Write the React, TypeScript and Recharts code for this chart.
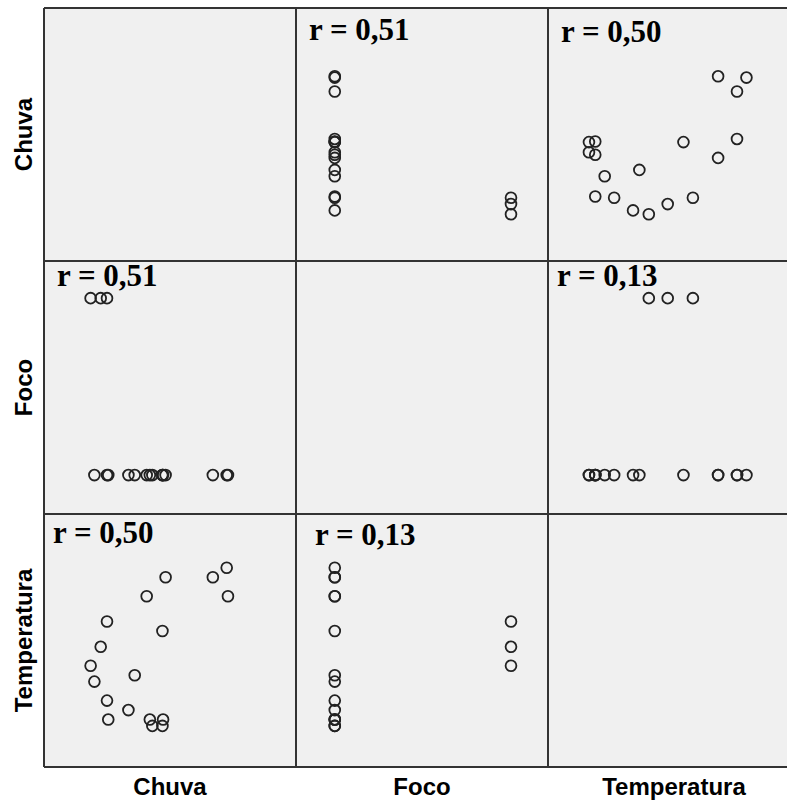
import { ScatterChart, Scatter, XAxis, YAxis } from "recharts";

// variables of the scatterplot matrix
const variables = ["Chuva", "Foco", "Temperatura"];

// observations (one entry per month)
const chuva = [193, 268, 290, 292, 163, 100, 188, 90, 74, 144, 80, 100, 134, 102, 168, 189, 172, 188];
const foco = [0, 0, 0, 0, 0, 1, 0, 1, 1, 0, 0, 0, 0, 0, 0, 0, 0, 0];
const temperatura = [28.0, 28.0, 28.3, 27.4, 27.4, 26.6, 26.3, 25.8, 25.2, 24.9, 24.7, 24.1, 23.8, 23.5, 23.5, 23.5, 23.3, 23.3];

// correlation shown in each cell (row, col)
const correlations = [
  ["", "r = 0,51", "r = 0,50"],
  ["r = 0,51", "", "r = 0,13"],
  ["r = 0,50", "r = 0,13", ""],
];

const data = chuva.map((c, i) => ({
  Chuva: c,
  Foco: foco[i],
  Temperatura: temperatura[i],
}));

const domains: Record<string, [number, number]> = {
  Chuva: [0, 400],
  Foco: [-0.22, 1.21],
  Temperatura: [22, 30],
};

const LEFT = 44;
const TOP = 8;
const W = 252;
const H = 253;

// where the r label sits inside each cell
const labelOffsets: Record<string, [number, number]> = {
  "0-1": [13, 32],
  "0-2": [13, 34],
  "1-0": [13, 25],
  "1-2": [9, 25],
  "2-0": [9, 29],
  "2-1": [19, 31],
};

function Ring(props: any) {
  const { cx, cy } = props;
  if (cx == null || cy == null) return null;
  return (
    <circle cx={cx} cy={cy} r={5.4} fill="none" stroke="#222" strokeWidth={1.8} />
  );
}

function Panel({ row, col }: { row: number; col: number }) {
  const xKey = variables[col];
  const yKey = variables[row];
  const style: React.CSSProperties = {
    position: "absolute",
    left: LEFT + col * W,
    top: TOP + row * H,
    width: W,
    height: H,
    background: "#f0f0f0",
  };

  if (row === col) return <div style={style} />;

  return (
    <div style={style}>
      <ScatterChart width={W} height={H} margin={{ top: 0, right: 0, bottom: 0, left: 0 }}>
        <XAxis type="number" dataKey={xKey} domain={domains[xKey]} hide allowDataOverflow />
        <YAxis type="number" dataKey={yKey} domain={domains[yKey]} hide allowDataOverflow />
        <Scatter data={data} shape={Ring} isAnimationActive={false} />
      </ScatterChart>
    </div>
  );
}

export default function App() {
  const cells = [];
  for (let r = 0; r < 3; r++) {
    for (let c = 0; c < 3; c++) {
      cells.push(<Panel key={`${r}-${c}`} row={r} col={c} />);
    }
  }

  const sans = "Arial, 'Liberation Sans', sans-serif";
  const serif = "'Times New Roman', 'Liberation Serif', serif";

  return (
    <div
      style={{
        position: "absolute",
        left: 0,
        top: 0,
        width: 787,
        height: 800,
        overflow: "hidden",
        background: "#fff",
      }}
    >
      {cells}
      <svg
        width={787}
        height={800}
        style={{ position: "absolute", left: 0, top: 0, pointerEvents: "none" }}
      >
        {[0, 1, 2, 3].map((i) => (
          <line
            key={`v${i}`}
            x1={LEFT + i * W}
            x2={LEFT + i * W}
            y1={TOP}
            y2={TOP + 3 * H}
            stroke="#333"
            strokeWidth={2}
          />
        ))}
        {[0, 1, 2, 3].map((i) => (
          <line
            key={`h${i}`}
            x1={LEFT}
            x2={LEFT + 3 * W}
            y1={TOP + i * H}
            y2={TOP + i * H}
            stroke="#333"
            strokeWidth={2}
          />
        ))}

        {correlations.map((rowLabels, r) =>
          rowLabels.map((txt, c) => {
            if (!txt) return null;
            const [dx, dy] = labelOffsets[`${r}-${c}`];
            return (
              <text
                key={`r${r}${c}`}
                x={LEFT + c * W + dx}
                y={TOP + r * H + dy}
                fontFamily={serif}
                fontWeight="bold"
                fontSize={31}
                fill="#000"
              >
                {txt}
              </text>
            );
          })
        )}

        {variables.map((v, i) => (
          <text
            key={`b${v}`}
            x={LEFT + i * W + W / 2}
            y={795}
            textAnchor="middle"
            fontFamily={sans}
            fontWeight="bold"
            fontSize={24}
            fill="#000"
          >
            {v}
          </text>
        ))}

        {variables.map((v, i) => {
          const cy = TOP + i * H + H / 2;
          return (
            <text
              key={`l${v}`}
              x={32}
              y={cy}
              transform={`rotate(-90, 32, ${cy})`}
              textAnchor="middle"
              fontFamily={sans}
              fontWeight="bold"
              fontSize={24}
              fill="#000"
            >
              {v}
            </text>
          );
        })}
      </svg>
    </div>
  );
}
